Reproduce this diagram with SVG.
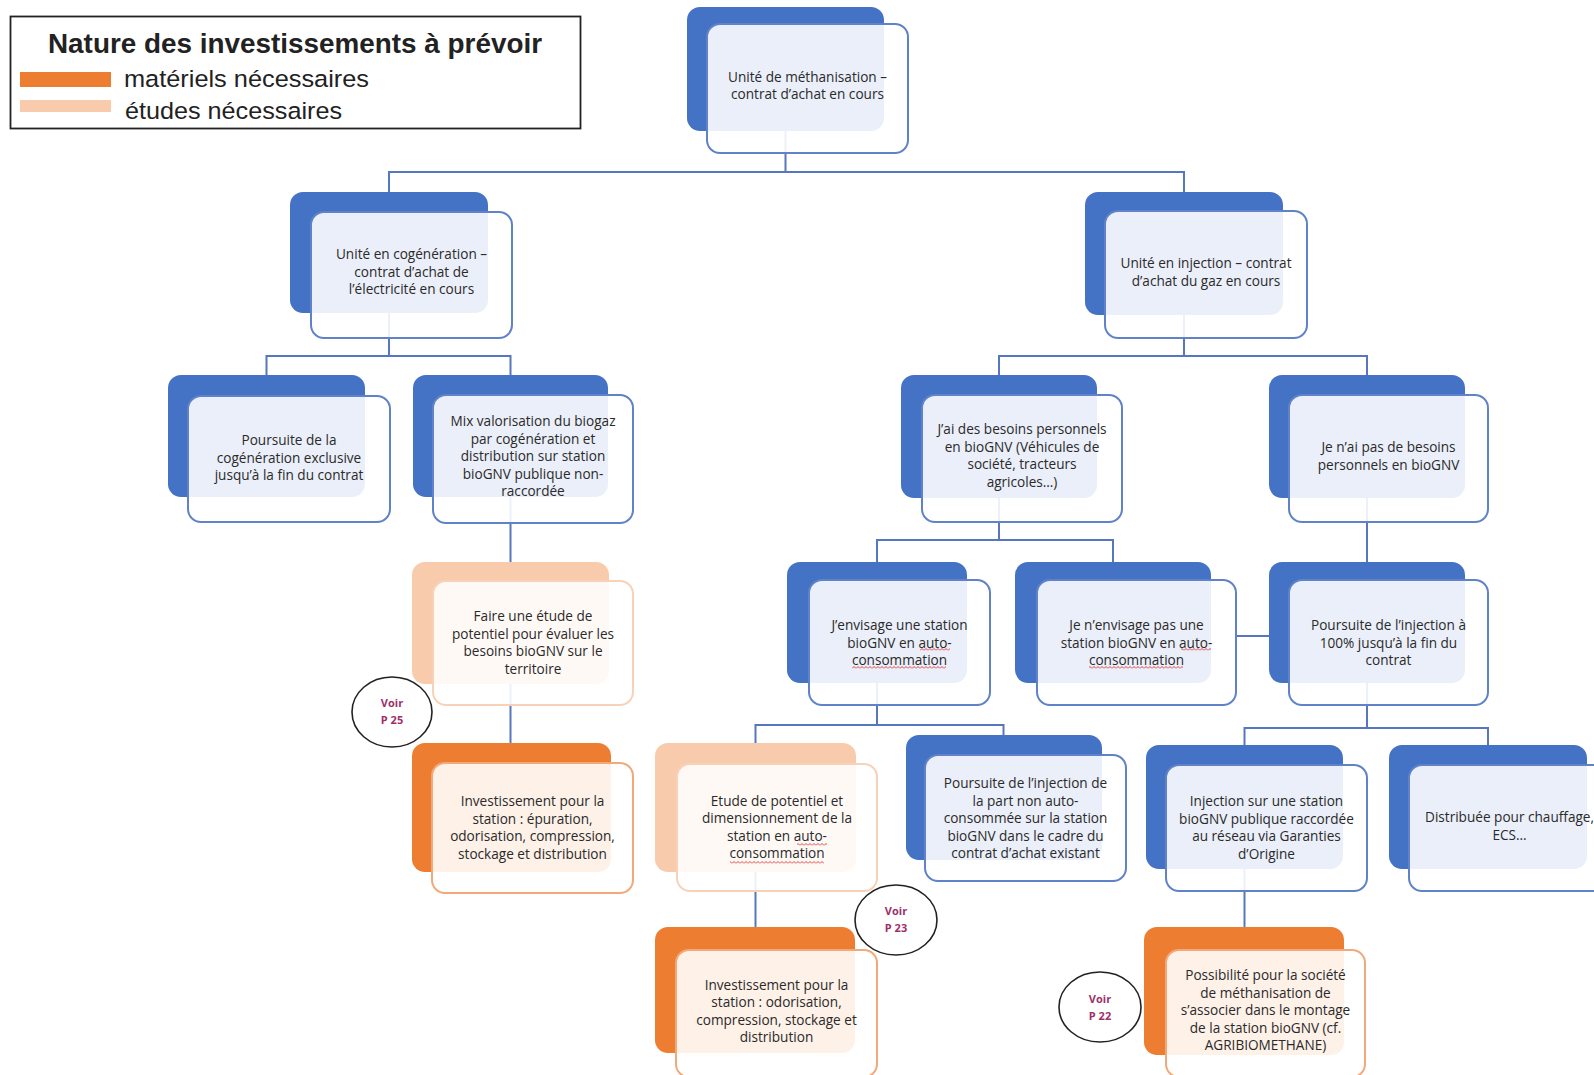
<svg xmlns="http://www.w3.org/2000/svg" width="1594" height="1075" viewBox="0 0 1594 1075">
<style>
.bg{fill:#ffffff}
.bb{fill:#4472C4}
.ob{fill:#ED7D31}
.lb{fill:#F8CBAD}
.bf{fill:#ffffff;fill-opacity:0.89;stroke:#5F82C8;stroke-width:2}
.of{fill:#ffffff;fill-opacity:0.89;stroke:#F2A97A;stroke-width:2}
.lf{fill:#ffffff;fill-opacity:0.89;stroke:#F8D2B8;stroke-width:2}
.t{font-family:"Open Sans","Liberation Sans",sans-serif;font-size:13.6px;fill:#2a2a2a;text-anchor:middle}
.c{fill:none;stroke:#5677C0;stroke-width:2}
.vc{fill:#ffffff;stroke:#222222;stroke-width:1.6}
.vt{font-family:"Open Sans","Liberation Sans",sans-serif;font-size:11px;font-weight:bold;fill:#9E2F6B;text-anchor:middle}
.sq{fill:url(#wave)}
.lg{font-family:"Liberation Sans",Arial,sans-serif;fill:#222222}
</style>
<defs>
<pattern id="wave" patternUnits="userSpaceOnUse" x="0" y="0" width="4" height="3">
<path d="M0,2.5 L2,0.5 L4,2.5" fill="none" stroke="#E03030" stroke-width="0.9"/>
</pattern>
</defs>
<rect class="bg" x="0" y="0" width="1594" height="1075"/>

<g id="legend">
<rect x="10.5" y="16.5" width="570" height="112" fill="#ffffff" stroke="#222222" stroke-width="1.8"/>
<text class="lg" x="295" y="53" font-size="27" font-weight="bold" text-anchor="middle" textLength="494" lengthAdjust="spacingAndGlyphs">Nature des investissements à prévoir</text>
<rect x="20" y="72" width="91" height="15" fill="#ED7D31"/>
<rect x="20" y="100" width="91" height="12" fill="#F8CBAD"/>
<text class="lg" x="124" y="87" font-size="24.5" textLength="245" lengthAdjust="spacingAndGlyphs">matériels nécessaires</text>
<text class="lg" x="125" y="119" font-size="24.5" textLength="217" lengthAdjust="spacingAndGlyphs">études nécessaires</text>
</g>

<g id="connectors">
<path class="c" d="M785.5,131 V172 M389,192 V172 H1184 V192"/>
<path class="c" d="M389,313 V356 M266.5,375 V356 H510.5 V375"/>
<path class="c" d="M1184,315 V356 M999,375 V356 H1367 V375"/>
<path class="c" d="M510.5,497 V562"/>
<path class="c" d="M510.5,684 V743"/>
<path class="c" d="M999,498 V540 M877,562 V540 H1113 V562"/>
<path class="c" d="M1367,498 V562"/>
<path class="c" d="M877,683 V725 M755.5,743 V725 H1003.5 V735"/>
<path class="c" d="M1367,683 V728 M1244.5,745 V728 H1488 V745"/>
<path class="c" d="M755.5,872 V927"/>
<path class="c" d="M1244.5,869 V927"/>
<path class="c" d="M1236,636 H1269"/>
</g>

<g id="n1">
<rect class="bb" x="687" y="7" width="197" height="124" rx="13"/>
<rect class="bf" x="707" y="24" width="201" height="129" rx="13"/>
<text class="t"><tspan x="807.5" y="82">Unité de méthanisation –</tspan><tspan x="807.5" y="99">contrat d’achat en cours</tspan></text>
</g>

<g id="n2">
<rect class="bb" x="290" y="192" width="198" height="121" rx="13"/>
<rect class="bf" x="311" y="212" width="201" height="126" rx="13"/>
<text class="t"><tspan x="411.5" y="259">Unité en cogénération –</tspan><tspan x="411.5" y="276.5">contrat d’achat de</tspan><tspan x="411.5" y="294">l’électricité en cours</tspan></text>
</g>

<g id="n3">
<rect class="bb" x="1085" y="192" width="198" height="123" rx="13"/>
<rect class="bf" x="1105" y="211" width="202" height="127" rx="13"/>
<text class="t"><tspan x="1206" y="268">Unité en injection – contrat</tspan><tspan x="1206" y="285.5">d’achat du gaz en cours</tspan></text>
</g>

<g id="n4">
<rect class="bb" x="168" y="375" width="197" height="122" rx="13"/>
<rect class="bf" x="188" y="396" width="202" height="126" rx="13"/>
<text class="t"><tspan x="289" y="445">Poursuite de la</tspan><tspan x="289" y="462.5">cogénération exclusive</tspan><tspan x="289" y="480">jusqu’à la fin du contrat</tspan></text>
</g>

<g id="n5">
<rect class="bb" x="413" y="375" width="195" height="122" rx="13"/>
<rect class="bf" x="433" y="395" width="200" height="128" rx="13"/>
<text class="t"><tspan x="533" y="426">Mix valorisation du biogaz</tspan><tspan x="533" y="443.5">par cogénération et</tspan><tspan x="533" y="461">distribution sur station</tspan><tspan x="533" y="478.5">bioGNV publique non-</tspan><tspan x="533" y="496">raccordée</tspan></text>
</g>

<g id="n6">
<rect class="bb" x="901" y="375" width="196" height="123" rx="13"/>
<rect class="bf" x="922" y="395" width="200" height="127" rx="13"/>
<text class="t"><tspan x="1022" y="434">J’ai des besoins personnels</tspan><tspan x="1022" y="451.5">en bioGNV (Véhicules de</tspan><tspan x="1022" y="469">société, tracteurs</tspan><tspan x="1022" y="486.5">agricoles…)</tspan></text>
</g>

<g id="n7">
<rect class="bb" x="1269" y="375" width="196" height="123" rx="13"/>
<rect class="bf" x="1289" y="395" width="199" height="127" rx="13"/>
<text class="t"><tspan x="1388.5" y="452">Je n’ai pas de besoins</tspan><tspan x="1388.5" y="469.5">personnels en bioGNV</tspan></text>
</g>

<g id="n8">
<rect class="lb" x="412" y="562" width="197" height="122" rx="13"/>
<rect class="lf" x="433" y="581" width="200" height="124" rx="13"/>
<text class="t"><tspan x="533" y="621">Faire une étude de</tspan><tspan x="533" y="638.5">potentiel pour évaluer les</tspan><tspan x="533" y="656">besoins bioGNV sur le</tspan><tspan x="533" y="673.5">territoire</tspan></text>
</g>

<g id="n9">
<rect class="bb" x="787" y="562" width="180" height="121" rx="13"/>
<rect class="bf" x="809" y="580" width="181" height="125" rx="13"/>
<text class="t"><tspan x="899.5" y="630">J’envisage une station</tspan><tspan x="899.5" y="647.5">bioGNV en auto-</tspan><tspan x="899.5" y="665">consommation</tspan></text>
<rect class="sq" x="920" y="648" width="30" height="3"/>
<rect class="sq" x="852" y="666" width="94" height="3"/>
</g>

<g id="n10">
<rect class="bb" x="1015" y="562" width="196" height="121" rx="13"/>
<rect class="bf" x="1037" y="580" width="199" height="125" rx="13"/>
<text class="t"><tspan x="1136.5" y="630">Je n’envisage pas une</tspan><tspan x="1136.5" y="647.5">station bioGNV en auto-</tspan><tspan x="1136.5" y="665">consommation</tspan></text>
<rect class="sq" x="1181" y="648" width="30" height="3"/>
<rect class="sq" x="1089" y="666" width="94" height="3"/>
</g>

<g id="n11">
<rect class="bb" x="1269" y="562" width="196" height="121" rx="13"/>
<rect class="bf" x="1289" y="580" width="199" height="125" rx="13"/>
<text class="t"><tspan x="1388.5" y="630">Poursuite de l’injection à</tspan><tspan x="1388.5" y="647.5">100% jusqu’à la fin du</tspan><tspan x="1388.5" y="665">contrat</tspan></text>
</g>

<g id="n12">
<rect class="ob" x="412" y="743" width="199" height="129" rx="13"/>
<rect class="of" x="432" y="763" width="201" height="130" rx="13"/>
<text class="t"><tspan x="532.5" y="806">Investissement pour la</tspan><tspan x="532.5" y="823.5">station : épuration,</tspan><tspan x="532.5" y="841">odorisation, compression,</tspan><tspan x="532.5" y="858.5">stockage et distribution</tspan></text>
</g>

<g id="n13">
<rect class="lb" x="655" y="743" width="201" height="129" rx="13"/>
<rect class="lf" x="677" y="764" width="200" height="127" rx="13"/>
<text class="t"><tspan x="777" y="805.5">Etude de potentiel et</tspan><tspan x="777" y="823">dimensionnement de la</tspan><tspan x="777" y="840.5">station en auto-</tspan><tspan x="777" y="858">consommation</tspan></text>
<rect class="sq" x="797" y="843" width="30" height="3"/>
<rect class="sq" x="730" y="861" width="94" height="3"/>
</g>

<g id="n14">
<rect class="bb" x="906" y="735" width="196" height="125" rx="13"/>
<rect class="bf" x="925" y="755" width="201" height="126" rx="13"/>
<text class="t"><tspan x="1025.5" y="788">Poursuite de l’injection de</tspan><tspan x="1025.5" y="805.5">la part non auto-</tspan><tspan x="1025.5" y="823">consommée sur la station</tspan><tspan x="1025.5" y="840.5">bioGNV dans le cadre du</tspan><tspan x="1025.5" y="858">contrat d’achat existant</tspan></text>
</g>

<g id="n15">
<rect class="bb" x="1146" y="745" width="197" height="124" rx="13"/>
<rect class="bf" x="1166" y="765" width="201" height="126" rx="13"/>
<text class="t"><tspan x="1266.5" y="806">Injection sur une station</tspan><tspan x="1266.5" y="823.5">bioGNV publique raccordée</tspan><tspan x="1266.5" y="841">au réseau via Garanties</tspan><tspan x="1266.5" y="858.5">d’Origine</tspan></text>
</g>

<g id="n16">
<rect class="bb" x="1389" y="745" width="198" height="124" rx="13"/>
<rect class="bf" x="1409" y="765" width="201" height="126" rx="13"/>
<text class="t"><tspan x="1509.5" y="822">Distribuée pour chauffage,</tspan><tspan x="1509.5" y="839.5">ECS…</tspan></text>
</g>

<g id="n17">
<rect class="ob" x="655" y="927" width="200" height="126" rx="13"/>
<rect class="of" x="676" y="950" width="201" height="127" rx="13"/>
<text class="t"><tspan x="776.5" y="989.5">Investissement pour la</tspan><tspan x="776.5" y="1007">station : odorisation,</tspan><tspan x="776.5" y="1024.5">compression, stockage et</tspan><tspan x="776.5" y="1042">distribution</tspan></text>
</g>

<g id="n18">
<rect class="ob" x="1144" y="927" width="200" height="128" rx="13"/>
<rect class="of" x="1166" y="950" width="199" height="127" rx="13"/>
<text class="t"><tspan x="1265.5" y="980">Possibilité pour la société</tspan><tspan x="1265.5" y="997.5">de méthanisation de</tspan><tspan x="1265.5" y="1015">s’associer dans le montage</tspan><tspan x="1265.5" y="1032.5">de la station bioGNV (cf.</tspan><tspan x="1265.5" y="1050">AGRIBIOMETHANE)</tspan></text>
</g>

<g id="voir25">
<ellipse class="vc" cx="392" cy="712" rx="40" ry="35"/>
<text class="vt"><tspan x="392" y="707">Voir</tspan><tspan x="392" y="724">P 25</tspan></text>
</g>
<g id="voir23">
<ellipse class="vc" cx="896" cy="920" rx="41" ry="35"/>
<text class="vt"><tspan x="896" y="915">Voir</tspan><tspan x="896" y="932">P 23</tspan></text>
</g>
<g id="voir22">
<ellipse class="vc" cx="1100" cy="1007" rx="41" ry="35"/>
<text class="vt"><tspan x="1100" y="1003">Voir</tspan><tspan x="1100" y="1020">P 22</tspan></text>
</g>
</svg>
